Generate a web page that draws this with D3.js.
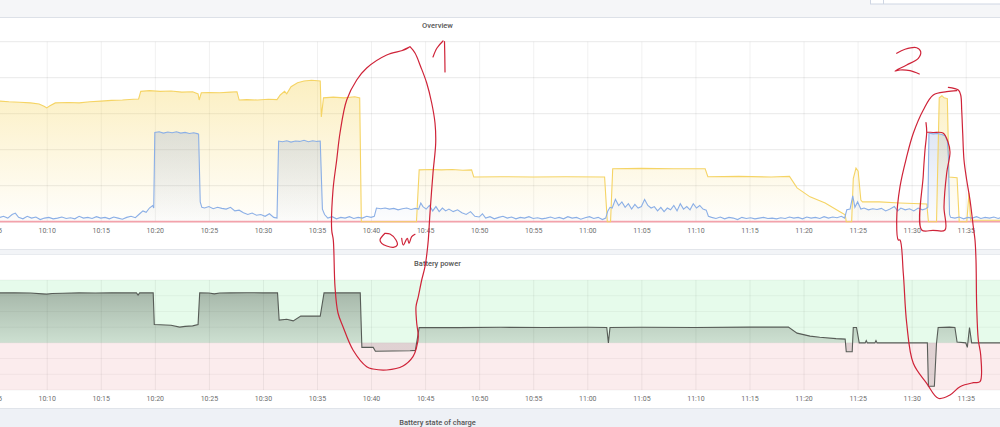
<!DOCTYPE html>
<html>
<head>
<meta charset="utf-8">
<script src="https://cdn.jsdelivr.net/npm/d3@7"></script>
<style>
  html, body { margin: 0; padding: 0; background: #fff; }
  svg { display: block; font-family: Roboto, "Noto Sans", sans-serif; }
</style>
</head>
<body>
<svg id="chart" width="1000" height="427"></svg>
<script>
// values are [minutes after 10:00, kW]
const tickLabels = ["10:05","10:10","10:15","10:20","10:25","10:30","10:35","10:40","10:45","10:50",
  "10:55","11:00","11:05","11:10","11:15","11:20","11:25","11:30","11:35"];

const solarKw = [[5.68,3.35],[6.5,3.33],[7.5,3.32],[8.5,3.3],[9.3,3.27],[9.8,3.2],[10.0,3.16],[10.3,3.22],
  [10.8,3.3],[12,3.31],[13,3.3],[14,3.33],[15,3.35],[16,3.37],[17,3.38],[18,3.4],[18.5,3.41],[18.7,3.62],
  [19.5,3.64],[20.5,3.62],[21.5,3.63],[22.5,3.6],[23.5,3.61],[24.0,3.55],[24.1,3.38],[24.3,3.58],[25,3.59],
  [26,3.58],[27,3.6],[27.6,3.61],[27.8,3.38],[28.5,3.39],[29.5,3.38],[30.5,3.4],[31.3,3.39],[31.6,3.52],
  [32.0,3.62],[32.2,3.55],[32.6,3.75],[33.2,3.86],[33.8,3.91],[34.5,3.93],[35.3,3.91],[35.4,2.91],[35.6,3.44],
  [36.5,3.46],[37.5,3.44],[38.5,3.47],[38.95,3.44],[39.1,0],[44.2,0],[44.45,1.44],[45.5,1.45],[46.5,1.44],
  [47.5,1.45],[48.5,1.43],[49.3,1.44],[49.5,1.24],[52,1.25],[55,1.24],[58,1.25],[61.6,1.24],[61.85,0],
  [62.15,0],[62.35,1.47],[65,1.48],[68,1.47],[70.9,1.47],[71.15,1.25],[74,1.26],[77,1.24],[78.7,1.26],
  [79.4,0.94],[80.6,0.69],[82.0,0.52],[83.4,0.27],[83.85,0.19],[83.95,0],[84.45,0],[84.6,1.2],[84.85,1.49],
  [85.05,1.4],[85.3,0.6],[85.45,0.55],[87,0.55],[88.9,0.52],[91.4,0.49],[91.55,0],[92.3,0],[92.55,3.44],
  [92.8,3.5],[93.0,3.44],[93.3,3.42],[93.45,1.24],[94.2,1.22],[94.4,0],[95.1,0],[95.3,0.8],[95.45,0.04],
  [98.2,0.04]];

const loadKw = [[5.68,.12],[6.0,.15],[6.4,.1],[6.8,.2],[7.1,.24],[7.4,.12],[7.8,.08],[8.2,.15],[8.6,.1],
  [9.0,.13],[9.4,.06],[9.8,.1],[10.2,.12],[10.6,.08],[11.0,.1],[11.4,.13],[11.8,.09],[12.2,.11],[12.6,.08],
  [13.0,.15],[13.4,.1],[13.8,.12],[14.2,.09],[14.6,.14],[15.0,.1],[15.4,.12],[15.8,.08],[16.2,.13],[16.6,.1],
  [17.0,.07],[17.4,.12],[17.8,.15],[18.2,.11],[18.6,.22],[18.9,.3],[19.2,.26],[19.5,.38],[19.8,.45],[19.9,.38],
  [20.0,2.48],[20.4,2.5],[20.8,2.46],[21.2,2.49],[21.6,2.47],[22.0,2.5],[22.4,2.46],[22.8,2.48],[23.2,2.45],
  [23.6,2.47],[24.0,2.44],[24.05,2.43],[24.2,.55],[24.35,.4],[24.6,.38],[25.0,.42],[25.4,.36],[25.8,.4],
  [26.2,.37],[26.6,.35],[27.0,.4],[27.4,.3],[27.8,.32],[28.2,.25],[28.6,.2],[29.0,.24],[29.4,.18],[29.8,.2],
  [30.2,.15],[30.6,.22],[31.0,.12],[31.3,.1],[31.45,2.24],[31.8,2.22],[32.2,2.25],[32.6,2.21],[33.0,2.24],
  [33.4,2.23],[33.8,2.26],[34.2,2.22],[34.6,2.25],[35.0,2.23],[35.3,2.24],[35.5,.35],[35.7,.2],[36.0,.1],
  [36.4,.14],[36.8,.08],[37.2,.12],[37.6,.1],[38.0,.14],[38.4,.09],[38.8,.12],[39.2,.1],[39.6,.15],[40.0,.12],
  [40.3,.15],[40.5,.38],[40.9,.36],[41.3,.38],[41.7,.35],[42.1,.37],[42.5,.33],[42.9,.36],[43.3,.38],[43.7,.34],
  [44.1,.37],[44.4,.35],[44.6,.52],[44.8,.42],[45.1,.35],[45.4,.45],[45.7,.3],[46.0,.42],[46.3,.28],[46.6,.38],
  [46.9,.3],[47.2,.35],[47.6,.28],[48.0,.33],[48.4,.25],[48.8,.2],[49.2,.28],[49.6,.15],[50.0,.13],[50.3,.22],
  [50.6,.1],[51.0,.14],[51.4,.08],[51.8,.12],[52.2,.15],[52.6,.1],[53.0,.13],[53.4,.08],[53.8,.12],[54.2,.1],
  [54.6,.14],[55.0,.09],[55.4,.11],[55.8,.08],[56.2,.1],[56.6,.13],[57.0,.09],[57.4,.12],[57.8,.08],[58.2,.14],
  [58.6,.1],[59.0,.12],[59.4,.07],[59.8,.11],[60.2,.14],[60.6,.09],[61.0,.12],[61.4,.06],[61.7,.1],[61.9,.3],
  [62.1,.4],[62.3,.38],[62.6,.62],[62.9,.45],[63.2,.55],[63.5,.4],[63.8,.5],[64.1,.35],[64.4,.48],[64.7,.38],
  [65.0,.42],[65.3,.62],[65.6,.45],[65.9,.38],[66.2,.42],[66.5,.3],[66.8,.4],[67.1,.28],[67.4,.38],[67.7,.33],
  [68.0,.45],[68.3,.3],[68.6,.5],[68.9,.35],[69.2,.42],[69.5,.33],[69.8,.5],[70.1,.38],[70.4,.45],[70.7,.35],
  [71.0,.32],[71.2,.15],[71.5,.12],[71.9,.09],[72.3,.13],[72.7,.08],[73.1,.12],[73.5,.1],[73.9,.06],[74.3,.12],
  [74.7,.09],[75.1,.11],[75.5,.08],[75.9,.1],[76.3,.12],[76.7,.09],[77.1,.1],[77.5,.08],[77.9,.11],[78.3,.09],
  [78.7,.13],[79.1,.1],[79.5,.12],[79.9,.08],[80.3,.13],[80.7,.1],[81.1,.12],[81.5,.09],[81.9,.14],[82.3,.1],
  [82.7,.13],[83.1,.11],[83.5,.15],[83.8,.1],[84.0,.33],[84.3,.35],[84.55,.72],[84.75,.4],[85.0,.55],[85.3,.35],
  [85.6,.38],[86.0,.33],[86.4,.36],[86.8,.34],[87.2,.37],[87.6,.3],[88.0,.35],[88.4,.42],[88.7,.3],[89.0,.38],
  [89.4,.33],[89.8,.36],[90.2,.3],[90.6,.38],[91.0,.33],[91.3,.36],[91.5,.4],[91.6,2.46],[92.0,2.44],[92.4,2.45],
  [92.8,2.42],[93.1,2.38],[93.3,2.25],[93.4,1.8],[93.5,.2],[93.6,.12],[94.0,.1],[94.4,.13],[94.8,.08],[95.2,.12],
  [95.6,.1],[96.0,.14],[96.4,.09],[96.8,.12],[97.2,.1],[97.6,.13],[98.0,.09],[98.2,.11]];

const gridKw = [[5.68,0],[98.2,0]];

const batteryKw = [[5.68,3.18],[7,3.19],[8.5,3.17],[9.6,3.12],[10.0,3.1],[10.5,3.14],[11.5,3.16],[13,3.18],
  [14.5,3.17],[16,3.19],[17.5,3.18],[18.3,3.18],[18.45,3.04],[18.6,3.18],[19.85,3.18],[19.95,1.17],[20.5,1.15],
  [21.5,1.12],[22.3,1.0],[22.8,1.05],[23.5,1.08],[24.0,1.17],[24.15,3.18],[25,3.17],[25.5,3.12],[26,3.17],
  [27,3.18],[28.5,3.19],[30,3.18],[31.35,3.18],[31.5,1.45],[32.2,1.5],[32.8,1.4],[33.5,1.7],[34.5,1.71],
  [35.3,1.7],[35.65,3.18],[39.0,3.18],[39.15,-0.29],[40.2,-0.29],[40.4,-0.53],[43.6,-0.5],[44.1,-0.48],
  [44.45,0.98],[48,0.97],[52,0.99],[56,0.98],[60,0.99],[61.8,0.98],[61.95,0],[62.1,0.98],[65,0.99],[70,0.98],
  [75,1.0],[78.6,1.0],[79.4,0.62],[80.6,0.43],[81.5,0.36],[83.0,0.27],[83.85,0.24],[83.95,-0.57],[84.5,-0.57],
  [84.6,0.98],[84.9,0.98],[85.15,0],[85.7,0],[85.8,0.15],[85.9,0],[86.6,0],[86.7,0.15],[86.8,0],[91.45,0],
  [91.55,-2.76],[92.1,-2.76],[92.3,0],[92.45,0.98],[93.5,1.0],[94.0,0.98],[94.2,0.05],[95.0,0],[95.15,-0.29],
  [95.35,0.98],[95.55,0],[98.2,0]];

// hand-drawn red marks on the screenshot (page pixels)
const scribbles = [
  [[401.7,50.7],[406.7,48.3],[410,46.7],[404,50],[386.7,55],[366.7,68],[356.7,80],[346.7,100],[340,133],
   [336.7,160],[333,190],[331.7,230],[333.3,240],[335,286.7],[338,313],[343,326.7],[353,350],[366.7,366.7],
   [373,369],[386.7,370],[403,366],[413,356.7],[416.7,346.7],[418.3,336.7],[416.7,323],[416,306.7],[418.3,296.7],
   [421.7,280],[425,266.7],[427.3,250],[428.3,240],[430,213],[433,173],[435.7,143],[435,123],[431.7,103],
   [426.7,83],[420.7,66.7],[415,53],[410,46.7]],
  [[433,57],[437,48],[443,41]],
  [[444.5,41.5],[444.8,56],[445,72]],
  [[385,233.3],[380,240],[381.7,243.3],[386.7,246],[393.3,247.3],[397.3,245],[396,240],[390,234],[385,233.3]],
  [[401.7,238.3],[403.3,245],[407.3,238.3],[409,243.3],[411.7,236.7],[415,234.3]],
  [[896.7,53.3],[905,49.3],[916.7,47.7],[920.7,51.7],[918.3,58.3],[906.7,65],[895,71],[900,70],[910,70.7],[919.3,74]],
  [[948.3,87.3],[958.3,90],[960.7,95],[961.7,110],[962.7,133],[964,160],[966.7,180],[970,200],[973.3,226.7],
   [975,240],[976,260],[976.7,306.7],[978.3,340],[980.7,355],[980,381.7],[973.3,382.7],[960,386.7],[950,395],
   [938.3,398.3],[926.7,383.3],[913.3,363.3],[906.7,323.3],[903.3,273.3],[900,240],[898.3,240],[896.7,220],
   [900,186.7],[906.7,156.7],[913.3,133.3],[923.3,110],[933.3,95],[946.7,91.7],[956.7,90.7]],
  [[926,122.7],[926.7,132],[925,150],[923.3,175],[921.7,230],[933,230.3],[945,230],[944,207],[946.7,173],
   [950,152],[948,142],[943,133],[933,132.5],[927,132]]
];

const base = new Date(2024, 0, 1, 10, 0, 0);
const t = m => new Date(base.getTime() + m * 60000);
const tp = s => { const [h, mm] = s.split(":").map(Number); return t((h - 10) * 60 + mm); };

const svg = d3.select("#chart");
const W = 1000;
const x = d3.scaleTime().domain([t(5.681), t(98.17)]).range([0, W]);

// page chrome
svg.append("rect").attr("x", 0).attr("y", 0).attr("width", W).attr("height", 17).attr("fill", "#f5f6f8");
svg.append("line").attr("x1", 0).attr("x2", W).attr("y1", 17.5).attr("y2", 17.5).attr("stroke", "#dde1e8");
svg.append("rect").attr("x", 870.5).attr("y", -2).attr("width", 140).attr("height", 6)
  .attr("fill", "#fff").attr("stroke", "#cfd6e3");
svg.append("line").attr("x1", 883.5).attr("x2", 883.5).attr("y1", 0).attr("y2", 4).attr("stroke", "#cfd6e3");
svg.append("rect").attr("x", 0).attr("y", 249.5).attr("width", W).attr("height", 5).attr("fill", "#f2f4f7");
svg.append("line").attr("x1", 0).attr("x2", W).attr("y1", 249.5).attr("y2", 249.5).attr("stroke", "#e2e5ea");
svg.append("line").attr("x1", 0).attr("x2", W).attr("y1", 254.5).attr("y2", 254.5).attr("stroke", "#e8ebef");
svg.append("rect").attr("x", 0).attr("y", 409).attr("width", W).attr("height", 18).attr("fill", "#eef1f6");
svg.append("line").attr("x1", 0).attr("x2", W).attr("y1", 408.5).attr("y2", 408.5).attr("stroke", "#e0e4ea");

function title(txt, y) {
  svg.append("text").attr("x", 437.5).attr("y", y).attr("text-anchor", "middle")
    .attr("font-size", 7.5).attr("font-weight", 500).attr("fill", "#555").text(txt);
}
title("Overview", 27.5);
title("Battery power", 266);
title("Battery state of charge", 424.5);

const defs = svg.append("defs");
function grad(id, stops, y1, y2) {
  const g = defs.append("linearGradient").attr("id", id).attr("x1", 0).attr("x2", 0);
  if (y1 !== undefined) g.attr("gradientUnits", "userSpaceOnUse").attr("y1", y1).attr("y2", y2);
  else g.attr("y1", 0).attr("y2", 1);
  stops.forEach(s => g.append("stop").attr("offset", s[0]).attr("stop-color", s[1]).attr("stop-opacity", s[2]));
}

function xAxis(y0, top) {
  const ticks = tickLabels.map(tp);
  svg.append("g").selectAll("line").data(ticks).join("line")
    .attr("x1", d => x(d) + 0.5).attr("x2", d => x(d) + 0.5)
    .attr("y1", top).attr("y2", y0).attr("stroke", "rgba(0,0,0,0.06)");
  const ax = svg.append("g").attr("transform", `translate(0,${y0})`)
    .call(d3.axisBottom(x).tickValues(ticks).tickFormat(d3.timeFormat("%H:%M")).tickSize(0).tickPadding(6.5));
  ax.select(".domain").remove();
  ax.selectAll("text").attr("font-size", 7).attr("fill", "#6e6e6e").attr("font-family", "Roboto, sans-serif");
}

// ---- Overview ----
const y1 = d3.scaleLinear().domain([0, 5]).range([221.7, 41.7]);
svg.append("g").selectAll("line").data(d3.range(0, 6)).join("line")
  .attr("x1", 0).attr("x2", W).attr("y1", d => y1(d)).attr("y2", d => y1(d))
  .attr("stroke", "#ededed").attr("stroke-width", 1.2);
xAxis(221.7, 41.7);

grad("solarFill", [[0, "#f6d55c", 0.38], [1, "#f6d55c", 0.02]]);
grad("loadFill", [[0, "#6f8fd0", 0.22], [1, "#6f8fd0", 0.02]]);

const px = d => x(t(d[0]));
const area1 = d3.area().x(px).y0(y1(0)).y1(d => y1(d[1]));
const line1 = d3.line().x(px).y(d => y1(d[1]));

svg.append("path").datum(solarKw).attr("d", area1).attr("fill", "url(#solarFill)");
svg.append("path").datum(loadKw).attr("d", area1).attr("fill", "url(#loadFill)");
svg.append("path").datum(gridKw).attr("d", line1).attr("fill", "none")
  .attr("stroke", "#f3a2ab").attr("stroke-width", 1.8);
svg.append("path").datum(solarKw).attr("d", line1).attr("fill", "none")
  .attr("stroke", "#f5d465").attr("stroke-width", 1.1);
svg.append("path").datum(loadKw).attr("d", line1).attr("fill", "none")
  .attr("stroke", "#8bafe6").attr("stroke-width", 1.1);

// ---- Battery power ----
const y2 = d3.scaleLinear().domain([-3, 4]).range([390, 280]);
svg.append("rect").attr("x", 0).attr("width", W).attr("y", y2(4)).attr("height", y2(0) - y2(4)).attr("fill", "#e6fbeb");
svg.append("rect").attr("x", 0).attr("width", W).attr("y", y2(0)).attr("height", y2(-3) - y2(0)).attr("fill", "#fbeced");
svg.append("g").selectAll("line").data(d3.range(-3, 5)).join("line")
  .attr("x1", 0).attr("x2", W).attr("y1", d => y2(d)).attr("y2", d => y2(d))
  .attr("stroke", "rgba(0,0,0,0.045)");
xAxis(390, 280);

grad("battFill", [[0, "#3c463c", 0.37], [0.95, "#3c463c", 0.16], [1, "#463c3c", 0.15]], y2(3.2), y2(0));
svg.append("path").datum(batteryKw)
  .attr("d", d3.area().x(px).y0(y2(0)).y1(d => y2(d[1])))
  .attr("fill", "url(#battFill)");
svg.append("path").datum(batteryKw)
  .attr("d", d3.line().x(px).y(d => y2(d[1])))
  .attr("fill", "none").attr("stroke", "#575c57").attr("stroke-width", 1.1);

// ---- scribbles ----
svg.append("g").selectAll("path").data(scribbles).join("path")
  .attr("d", d3.line().curve(d3.curveCatmullRom.alpha(0.5)))
  .attr("fill", "none").attr("stroke", "#cf2338").attr("stroke-width", 1.2)
  .attr("stroke-linecap", "round").attr("stroke-linejoin", "round");
</script>
</body>
</html>
